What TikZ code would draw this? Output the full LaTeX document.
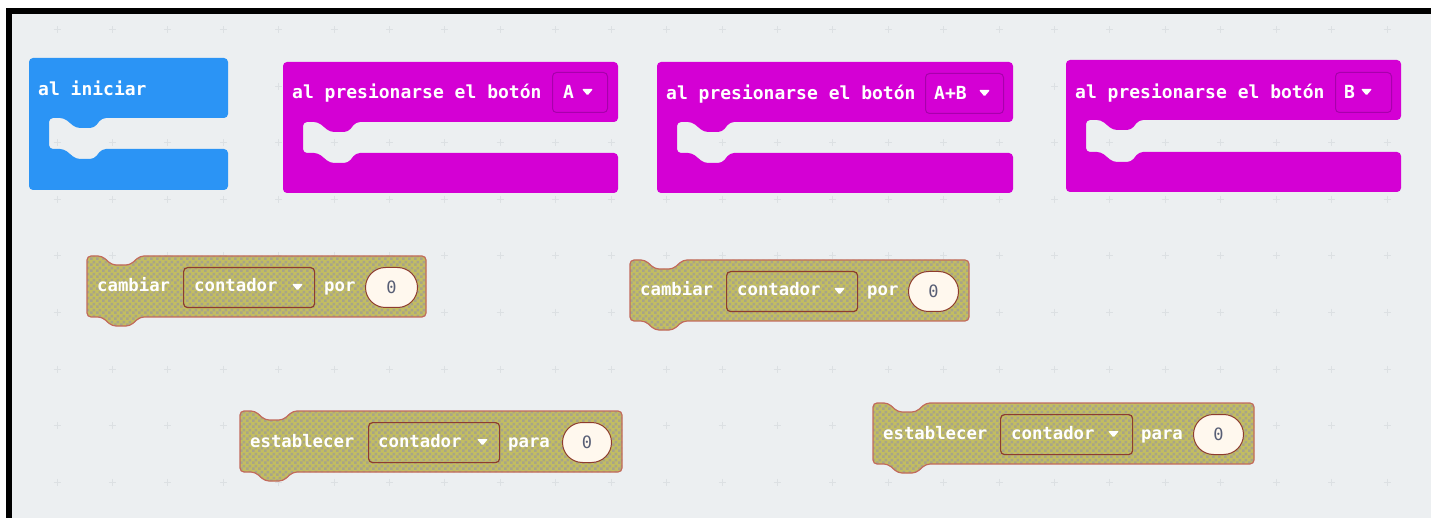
\documentclass[tikz,border=0pt]{standalone}
\usepackage{fontspec}
\newfontfamily\blkfont{DejaVu Sans Mono}
\usetikzlibrary{patterns.meta}
\definecolor{bgc}{HTML}{ECEFF1}
\definecolor{gridc}{HTML}{DCE0E3}
\definecolor{bluec}{HTML}{2B94F5}
\definecolor{magc}{HTML}{D400D4}
\definecolor{magdd}{HTML}{A800AC}
\definecolor{khakiA}{HTML}{C2BD62}
\definecolor{khakiB}{HTML}{A8A488}
\definecolor{varborder}{HTML}{C26A5C}
\definecolor{vddborder}{HTML}{8E3C2E}
\definecolor{creamc}{HTML}{FFF8EE}
\definecolor{zeroc}{HTML}{575E75}
\tikzdeclarepattern{
  name=chk,
  type=uncolored,
  bounding box={(0pt,0pt) and (6pt,6pt)},
  tile size={(6pt,6pt)},
  code={\fill (0pt,0pt) rectangle (3pt,3pt); \fill (3pt,3pt) rectangle (6pt,6pt);}
}
\tikzset{
  lbl/.style={font=\blkfont\bfseries\fontsize{18}{20}\selectfont, text=white, inner sep=0pt, anchor=base west},
  vlbl/.style={font=\blkfont\bfseries\fontsize{17.3}{20}\selectfont, text=white, inner sep=0pt, anchor=base west},
  zero/.style={font=\blkfont\fontsize{17}{20}\selectfont, text=zeroc, inner sep=0pt, draw=vddborder, line width=1pt, fill=creamc, rounded corners=20pt, anchor=north west, minimum height=40pt},
  magdrop/.style={draw=magdd, line width=1pt, rounded corners=4pt, anchor=north west, minimum height=40pt, inner sep=0pt},
  vardrop/.style={draw=vddborder, line width=1.2pt, rounded corners=4pt, anchor=north west, minimum height=40pt, inner sep=0pt},
  varblock/.style={draw=varborder, line width=1.2pt, preaction={fill=khakiA}, pattern={chk}, pattern color=khakiB, rounded corners=4pt},
  tri/.style={fill=white, rounded corners=1pt},
  plusmark/.style={draw=gridc, line width=1pt}
}
\newcommand\cblk[8]{% color x0 y0 x1 y1 ya yb xi
  \fill[#1, rounded corners=4pt] (#2,#3) -- (#4,#3) -- (#4,#6) -- ({#8+53},#6) -- ({#8+45},{#6+10}) -- ({#8+27},{#6+10}) -- ({#8+15},#6) -- (#8,#6) -- (#8,#7) -- ({#8+15},#7) -- ({#8+27},{#7+10}) -- ({#8+45},{#7+10}) -- ({#8+53},#7) -- (#4,#7) -- (#4,#5) -- (#2,#5) -- cycle;}
\newcommand\varshape[3]{%
  \path[varblock] (#1,#2) -- ({#1+15},#2) -- ({#1+25},{#2+9}) -- ({#1+43},{#2+9}) -- ({#1+53},#2) -- (#3,#2) -- (#3,{#2+61}) -- ({#1+53},{#2+61}) -- ({#1+43},{#2+70}) -- ({#1+25},{#2+70}) -- ({#1+15},{#2+61}) -- (#1,{#2+61}) -- cycle;}
\newcommand\dtri[2]{\fill[tri] (#1,{#2-3}) -- ({#1+11},{#2-3}) -- ({#1+5.5},{#2+3.5}) -- cycle;}
\begin{document}
\begin{tikzpicture}[x=1pt,y=-1pt]
\useasboundingbox (0,0) rectangle (1431,518);
\fill[white] (0,0) rectangle (1431,518);
\fill[bgc] (12,14) rectangle (1431,518);
\fill[black] (6,8) rectangle (1431,14);
\fill[black] (6,8) rectangle (12,518);
% grid
\foreach \i in {0,...,24}{
  \foreach \j in {0,...,8}{
    \pgfmathsetmacro\gx{57+55.42*\i}
    \pgfmathsetmacro\gy{30+56.5*\j}
    \draw[plusmark] ({\gx-3.5},\gy) -- ({\gx+3.5},\gy) ({\gx},{\gy-3.5}) -- ({\gx},{\gy+3.5});
  }
}
% hat blocks
\cblk{bluec}{29}{58}{228}{190}{118}{149}{49}
\node[lbl] (tIni) at (38,96) {al iniciar};

\cblk{magc}{283}{62}{618}{193}{122}{153}{303}
\node[lbl] (tA) at (292,99) {al presionarse el botón};
\node[magdrop, minimum width=55pt] (ddA) at (552,72) {};
\node[lbl] (kA) at (563,99) {A};
\dtri{582}{92}

\cblk{magc}{657}{62}{1013}{193}{122}{153}{677}
\node[lbl] (tAB) at (666,100) {al presionarse el botón};
\node[magdrop, minimum width=78pt] (ddAB) at (925,73) {};
\node[lbl] (kAB) at (934,100) {A+B};
\dtri{979}{93}

\cblk{magc}{1066}{60}{1401}{192}{120}{152}{1086}
\node[lbl] (tB) at (1075,99) {al presionarse el botón};
\node[magdrop, minimum width=56pt] (ddB) at (1335,72) {};
\node[lbl] (kB) at (1344,99) {B};
\dtri{1361}{92}

% cambiar 1
\varshape{87}{256}{426}
\node[vlbl] (c1) at (97,292) {cambiar};
\node[vardrop, minimum width=131pt] (c1dd) at (183,267) {};
\node[vlbl] (c1v) at (194,292) {contador};
\dtri{292}{287}
\node[vlbl] (c1p) at (324,292) {por};
\node[zero, minimum width=52pt] (c1z) at (365,267) {0};

% cambiar 2
\varshape{630}{260}{969}
\node[vlbl] (c2) at (640,296) {cambiar};
\node[vardrop, minimum width=131pt] (c2dd) at (726,271) {};
\node[vlbl] (c2v) at (737,296) {contador};
\dtri{834}{291}
\node[vlbl] (c2p) at (867,296) {por};
\node[zero, minimum width=50pt] (c2z) at (908,271) {0};

% establecer 1
\varshape{240}{411}{622}
\node[vlbl] (e1) at (250,447) {establecer};
\node[vardrop, minimum width=131pt] (e1dd) at (368,422) {};
\node[vlbl] (e1v) at (378,447) {contador};
\dtri{477}{442}
\node[vlbl] (e1p) at (508,447) {para};
\node[zero, minimum width=49pt] (e1z) at (562,422) {0};

% establecer 2
\varshape{873}{403}{1254}
\node[vlbl] (e2) at (883,439) {establecer};
\node[vardrop, minimum width=132pt] (e2dd) at (1000,414) {};
\node[vlbl] (e2v) at (1011,439) {contador};
\dtri{1108}{434}
\node[vlbl] (e2p) at (1141,439) {para};
\node[zero, minimum width=50pt] (e2z) at (1193,414) {0};
\end{tikzpicture}
\end{document}
